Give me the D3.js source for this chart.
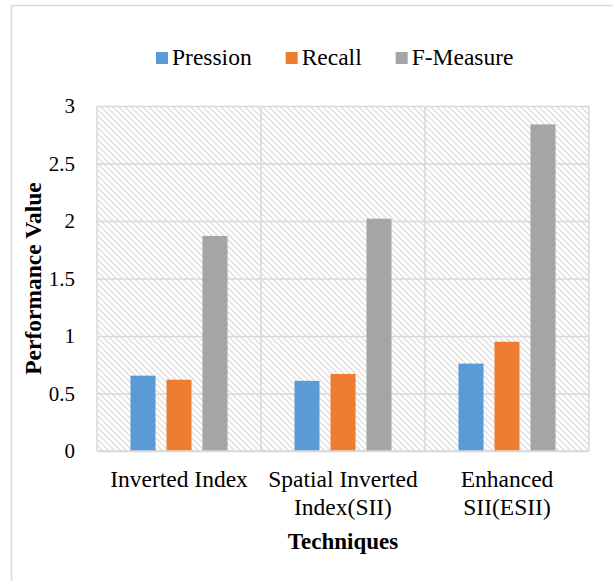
<!DOCTYPE html>
<html>
<head>
<meta charset="utf-8">
<script src="https://cdn.jsdelivr.net/npm/d3@7"></script>
<style>
  html, body { margin: 0; padding: 0; background: #fff; }
  svg { display: block; }
  text { font-family: "Liberation Serif", "Times New Roman", serif; fill: #000; }
</style>
</head>
<body>
<svg id="chart" width="613" height="581" font-family="'Liberation Serif', 'Times New Roman', serif"></svg>
<script>
// Performance of the three indexing techniques
const categories = [["Inverted Index"], ["Spatial Inverted", "Index(SII)"], ["Enhanced", "SII(ESII)"]];
const seriesNames = ["Pression", "Recall", "F-Measure"];
const seriesColors = ["#5B9BD5", "#ED7D31", "#A5A5A5"];
const pressionValues = [0.655, 0.61, 0.76];
const recallValues = [0.62, 0.67, 0.95];
const fMeasureValues = [1.87, 2.02, 2.84];
const yTicks = [0, 0.5, 1, 1.5, 2, 2.5, 3];

const seriesValues = [pressionValues, recallValues, fMeasureValues];
const serif = '"Liberation Serif", "Times New Roman", serif';

const svg = d3.select("#chart");
const plot = { left: 97, right: 589, top: 106, bottom: 451 };

// outer chart frame
svg.append("rect")
  .attr("x", 11.5).attr("y", 5.5)
  .attr("width", 640).attr("height", 620)
  .attr("fill", "#fff").attr("stroke", "#d9d9d9").attr("stroke-width", 1.5);

// downward-diagonal hatch for the plot area
const defs = svg.append("defs");
const pat = defs.append("pattern")
  .attr("id", "hatch").attr("patternUnits", "userSpaceOnUse")
  .attr("width", 6).attr("height", 6);
pat.append("rect").attr("width", 6).attr("height", 6).attr("fill", "#fff");
pat.append("path")
  .attr("d", "M-1,-1 L7,7 M-1,5 L1,7 M5,-1 L7,1")
  .attr("stroke", "#e0e0e0").attr("stroke-width", 1.5);

const catKeys = categories.map((c, i) => i);
const x0 = d3.scaleBand().domain(catKeys).range([plot.left, plot.right]).paddingInner(0).paddingOuter(0);
const x1 = d3.scaleBand().domain(d3.range(seriesNames.length))
  .range([0, x0.bandwidth()]).paddingInner(11 / 36).paddingOuter(0.93);
const y = d3.scaleLinear().domain([0, 3]).range([plot.bottom, plot.top]);

svg.append("rect")
  .attr("x", plot.left).attr("y", plot.top)
  .attr("width", plot.right - plot.left).attr("height", plot.bottom - plot.top)
  .attr("fill", "url(#hatch)");

// horizontal gridlines
svg.append("g")
  .attr("transform", `translate(${plot.left},0)`)
  .call(d3.axisLeft(y).tickValues(yTicks).tickSize(-(plot.right - plot.left)).tickFormat(""))
  .call(g => g.select(".domain").remove())
  .call(g => g.selectAll("line").attr("stroke", "#d9d9d9").attr("stroke-width", 1.5));

// vertical category separators
const seps = catKeys.map(k => x0(k)).concat([plot.right]);
svg.append("g").selectAll("line").data(seps).join("line")
  .attr("x1", d => d).attr("x2", d => d)
  .attr("y1", plot.top).attr("y2", plot.bottom)
  .attr("stroke", "#d9d9d9").attr("stroke-width", 1.5);

// bars
const groups = svg.append("g").selectAll("g").data(catKeys).join("g")
  .attr("transform", k => `translate(${x0(k)},0)`);
groups.selectAll("rect")
  .data(k => seriesValues.map((vals, s) => ({ s, v: vals[k] })))
  .join("rect")
  .attr("x", d => x1(d.s))
  .attr("width", x1.bandwidth())
  .attr("y", d => y(d.v))
  .attr("height", d => y(0) - y(d.v))
  .attr("fill", d => seriesColors[d.s]);

// baseline
svg.append("line")
  .attr("x1", plot.left).attr("x2", plot.right)
  .attr("y1", y(0)).attr("y2", y(0))
  .attr("stroke", "#d9d9d9").attr("stroke-width", 1.5);

// y tick labels
const yAxis = svg.append("g")
  .attr("transform", `translate(${plot.left - 12},0)`)
  .call(d3.axisLeft(y).tickValues(yTicks).tickSize(0).tickPadding(10).tickFormat(d3.format("")));
yAxis.attr("font-family", serif).attr("font-size", 21);
yAxis.select(".domain").remove();
yAxis.selectAll("text")
  .style("font-family", serif)
  .style("font-size", "21px").attr("fill", "#000");

// category labels
const xLab = svg.append("g");
categories.forEach((lines, k) => {
  const cx = x0(k) + x0.bandwidth() / 2;
  const t = xLab.append("text")
    .attr("text-anchor", "middle")
    .attr("x", cx)
    .attr("y", 487)
    .style("font-family", serif)
    .style("font-size", "23.5px");
  lines.forEach((ln, i) => {
    t.append("tspan").attr("x", cx).attr("dy", i === 0 ? 0 : 28).text(ln);
  });
});

// axis titles
svg.append("text")
  .attr("text-anchor", "middle")
  .attr("x", (plot.left + plot.right) / 2).attr("y", 549)
  .style("font-family", serif)
  .style("font-size", "23px").style("font-weight", "bold")
  .text("Techniques");

svg.append("text")
  .attr("text-anchor", "middle")
  .attr("transform", `translate(41,${(plot.top + plot.bottom) / 2}) rotate(-90)`)
  .style("font-family", serif)
  .style("font-size", "23.5px").style("font-weight", "bold")
  .text("Performance Value");

// legend
const legend = svg.append("g");
let lx = 156;
seriesNames.forEach((name, i) => {
  legend.append("rect")
    .attr("x", lx).attr("y", 52).attr("width", 12).attr("height", 12)
    .attr("fill", seriesColors[i]);
  const t = legend.append("text")
    .attr("x", lx + 16).attr("y", 65)
    .style("font-family", serif)
    .style("font-size", "23.5px")
    .text(name);
  lx += 16 + t.node().getComputedTextLength() + 34;
});
</script>
</body>
</html>
